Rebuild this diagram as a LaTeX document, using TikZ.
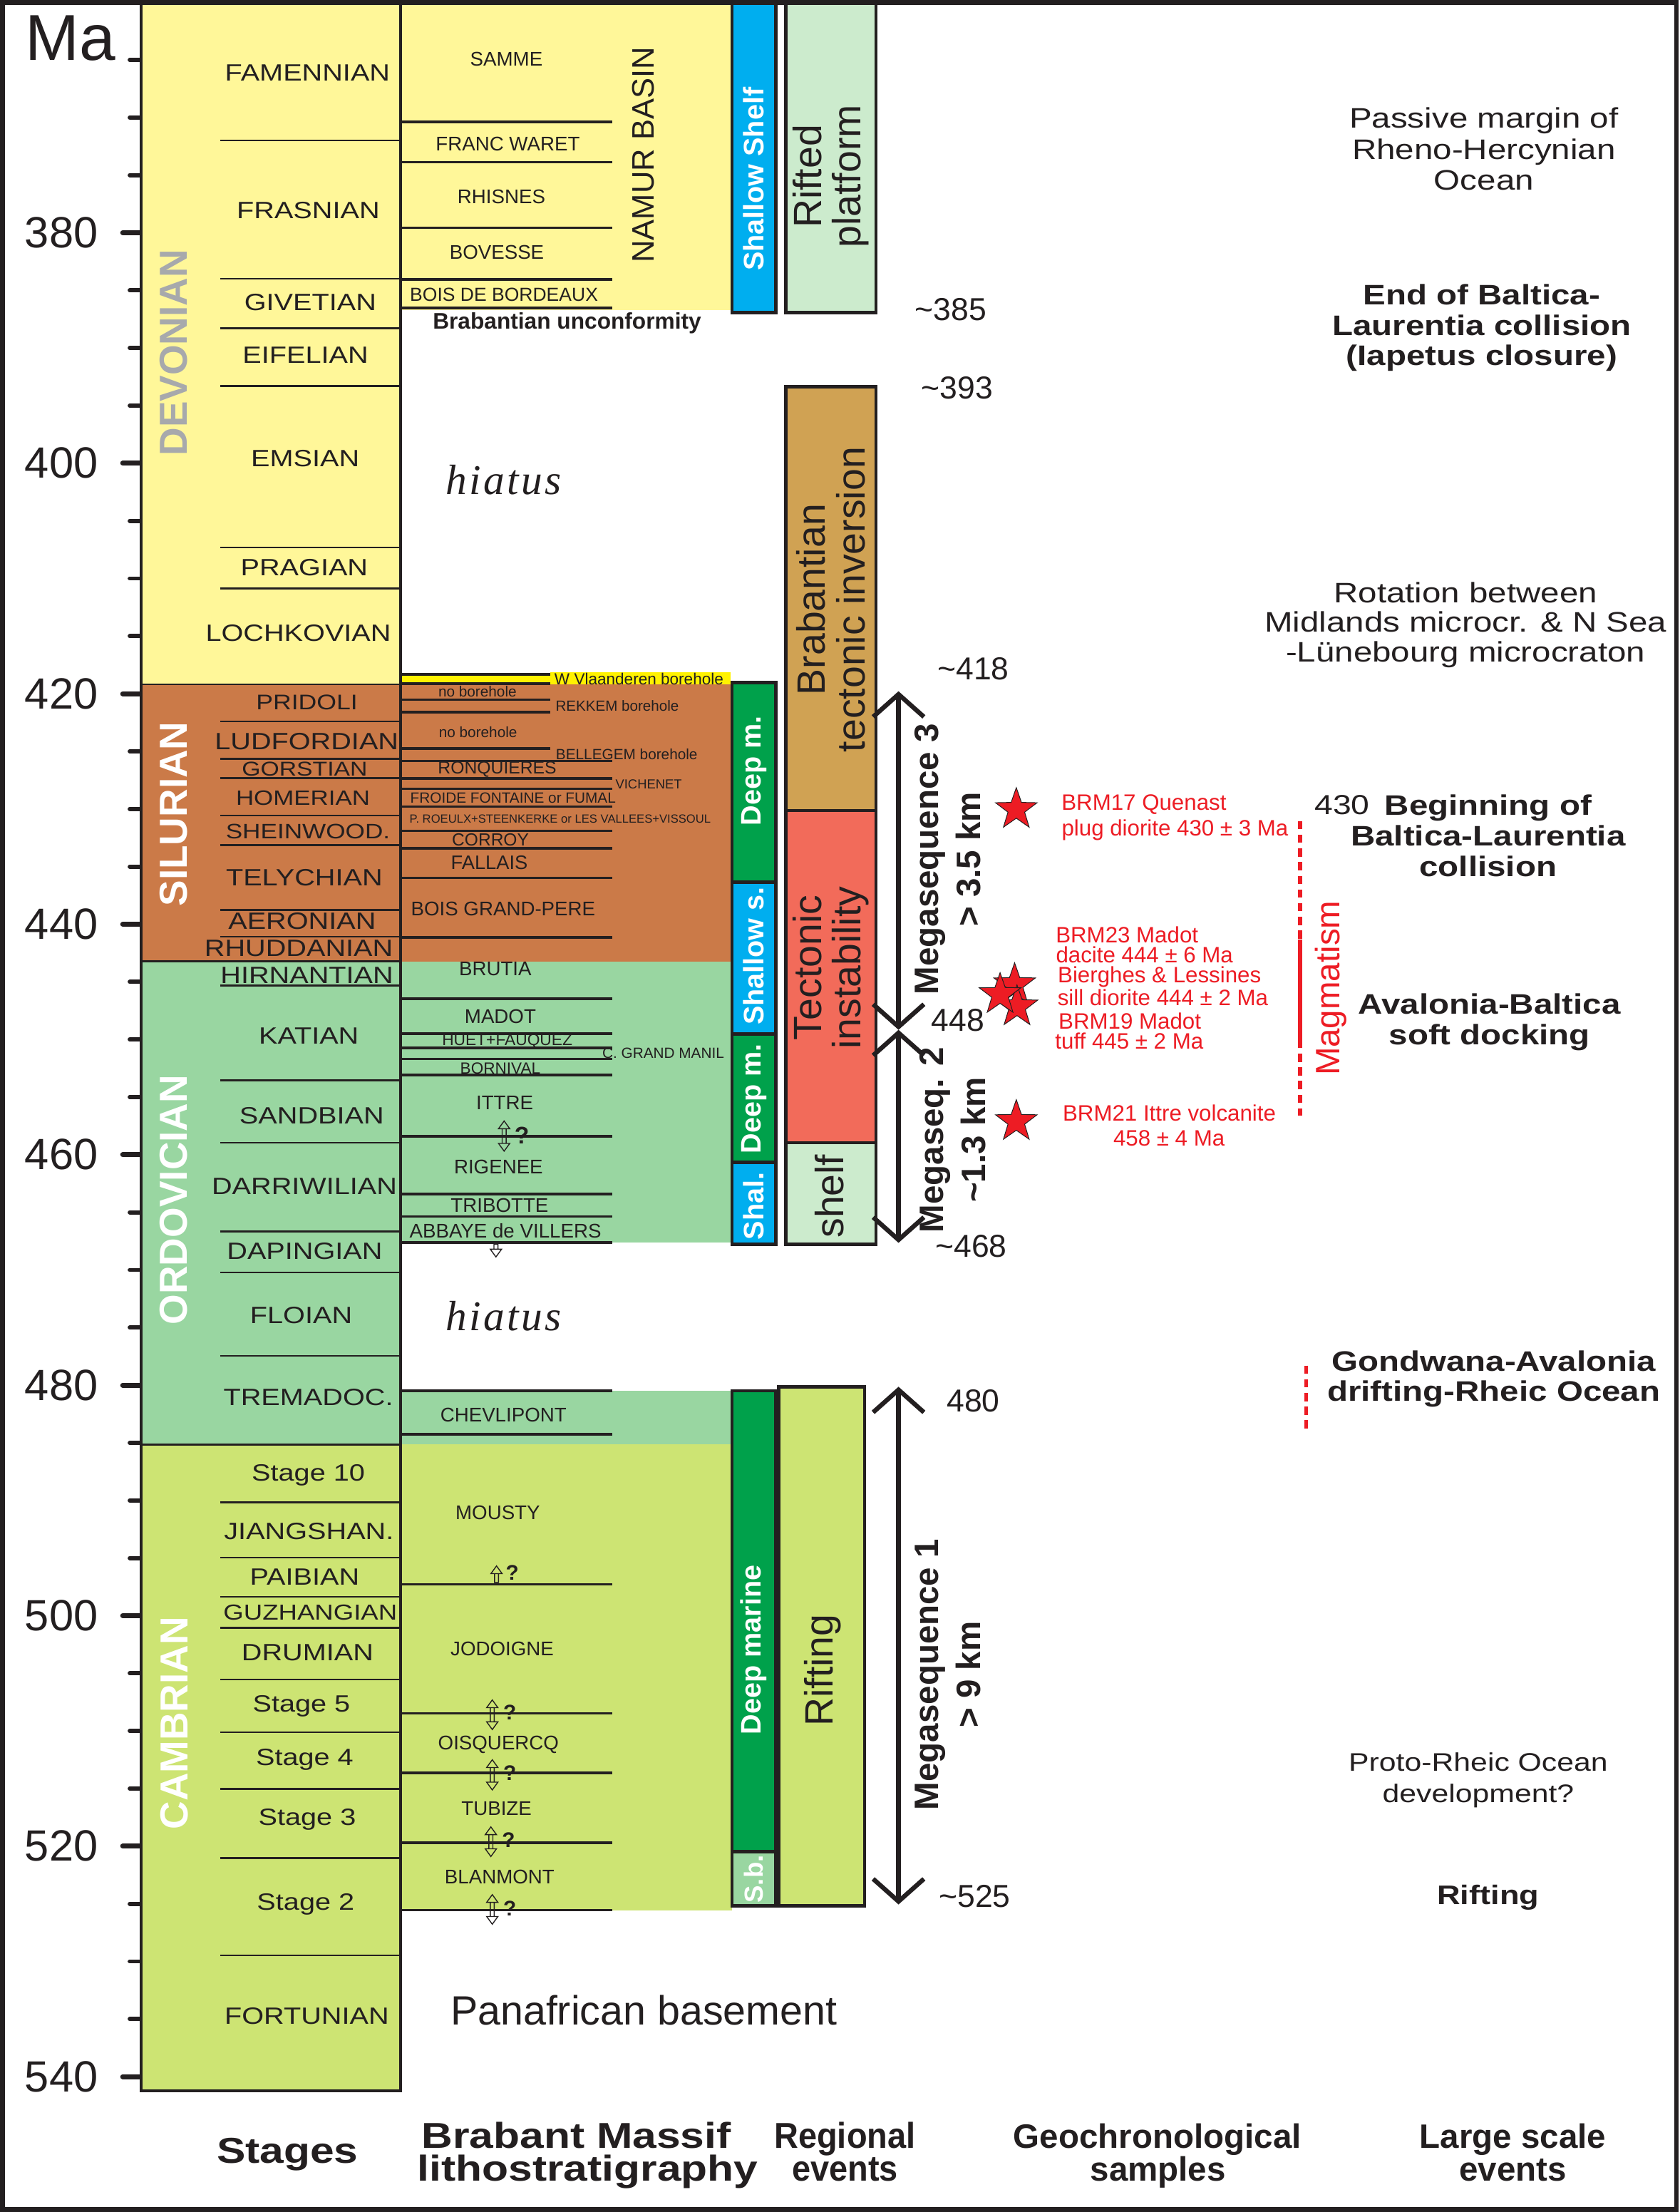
\documentclass[tikz,border=0pt]{standalone}
\usepackage{fontspec}
\usetikzlibrary{arrows.meta,shapes.geometric}
\setmainfont{Liberation Sans}
\newfontfamily\fN{Liberation Sans}
\newfontfamily\fW[FakeStretch=1.2]{Liberation Sans}
\newfontfamily\fC[FakeStretch=0.93]{Liberation Sans}
\newfontfamily\fHi[LetterSpace=6]{Liberation Serif}
\newcommand{\fz}[2]{\fontsize{#1}{#2}\selectfont}
\definecolor{ink}{HTML}{231F20}
\definecolor{devyel}{HTML}{FFF799}
\definecolor{silbrn}{HTML}{CB7A48}
\definecolor{ordgrn}{HTML}{99D6A1}
\definecolor{camgrn}{HTML}{CDE473}
\definecolor{shblue}{HTML}{00AEEF}
\definecolor{dpgrn}{HTML}{00A14B}
\definecolor{ltgrn}{HTML}{CCEBCD}
\definecolor{tancol}{HTML}{D0A253}
\definecolor{salm}{HTML}{F26B5A}
\definecolor{rd}{HTML}{ED1C24}
\definecolor{gry}{HTML}{A7A9AC}
\definecolor{hlyel}{HTML}{FFF200}
\newcommand{\harrUD}[3]{%
  \draw[harr] (#1-4,#2+5.5) -- (#1,#2) -- (#1+4,#2+5.5) -- cycle
              (#1-4,#3-5.5) -- (#1,#3) -- (#1+4,#3-5.5) -- cycle
              (#1-1.4,#2+5.5) -- (#1-1.4,#3-5.5)
              (#1+1.4,#2+5.5) -- (#1+1.4,#3-5.5);}
\newcommand{\harrU}[3]{%
  \draw[harr] (#1-4,#2+5.5) -- (#1,#2) -- (#1+4,#2+5.5) -- cycle
              (#1-1.4,#2+5.5) -- (#1-1.4,#3) -- (#1+1.4,#3) -- (#1+1.4,#2+5.5);}
\newcommand{\harrD}[3]{%
  \draw[harr] (#1-4,#3-5.5) -- (#1,#3) -- (#1+4,#3-5.5) -- cycle
              (#1-1.4,#3-5.5) -- (#1-1.4,#2) -- (#1+1.4,#2) -- (#1+1.4,#3-5.5);}
\begin{document}
\begin{tikzpicture}[x=1pt,y=-1pt,
  every node/.style={inner sep=0pt, text=ink},
  stl/.style={line width=1.3pt, draw=ink},
  brl/.style={line width=1.8pt, draw=ink},
  boxl/.style={line width=2.2pt, draw=ink},
  rbox/.style={line width=2.4pt, draw=ink},
  outerframe/.style={line width=3.5pt, draw=ink},
  tickm/.style={line width=3pt, draw=ink, line cap=round},
  tickM/.style={line width=3.5pt, draw=ink, line cap=round},
  tklab/.style={font=\fN\fz{31}{33}},
  stg/.style={font=\fW\fz{16.7}{18}},
  lith/.style={font=\fN\fz{14}{15}},
  per/.style={font=\fN\bfseries\fz{27.7}{30}, rotate=90},
  wtxt/.style={font=\fN\bfseries\fz{20}{22}, rotate=90, text=white},
  evt/.style={font=\fN\fz{28}{28}, rotate=90, align=center},
  meg/.style={font=\fN\bfseries\fz{24}{30}, rotate=90, align=center},
  num/.style={font=\fN\fz{22.5}{24}},
  lse/.style={font=\fW\fz{20}{21.8}, align=center},
  lseb/.style={font=\fW\bfseries\fz{20}{21.5}, align=center},
  rtxt/.style={font=\fN\fz{15.8}{17}, text=rd},
  hdr/.style={font=\fW\bfseries\fz{25.5}{23}, anchor=base},
  qm/.style={font=\fN\bfseries\fz{15}{16}},
  hiat/.style={font=\fHi\itshape\fz{30}{32}},
  redstar/.style={star, star points=5, star point ratio=2.5, minimum size=31pt, fill=rd, draw=ink, line width=0.5pt},
  mega/.style={line width=3.2pt, draw=ink, arrows={Straight Barb[length=16pt,width=36pt]-Straight Barb[length=16pt,width=36pt]}},
  harr/.style={line width=0.7pt, draw=ink, line join=miter},
  rdash/.style={line width=2.9pt, draw=rd, dash pattern=on 5.8pt off 3.9pt},
  rsolid/.style={line width=2.9pt, draw=rd}
]
\useasboundingbox (0,0) rectangle (1191,1568);
\fill[white] (0,0) rectangle (1191,1568);

% ---------- fills ----------
\fill[devyel] (100,2) rectangle (284,485.2);
\fill[silbrn] (100,485.2) rectangle (284,681.5);
\fill[ordgrn] (100,681.5) rectangle (284,1024);
\fill[camgrn] (100,1024) rectangle (284,1482);
\fill[devyel] (284,2) rectangle (519,219.7);
\fill[hlyel] (284,478) rectangle (390,485.2);
\fill[hlyel] (390,476.5) rectangle (518,485.2);
\fill[silbrn] (284,485.2) rectangle (519,681.5);
\fill[ordgrn] (284,681.5) rectangle (519,881);
\fill[ordgrn] (284,985.8) rectangle (519,1024);
\fill[camgrn] (284,1024) rectangle (519,1354);

% ---------- stage lines ----------
\foreach \yy in {99.6,197.6,232.8,273.5,388,417,511.3,538,551.6,578,599,645,664,698.6,765.7,810,873,902,961,1065,1104,1132,1154,1190.6,1228,1268,1317,1386}{\draw[stl] (156,\yy) -- (284,\yy);}
\foreach \yy in {485.2,681.5,1024}{\draw[stl] (100,\yy) -- (284,\yy);}

% ---------- Brabant lines ----------
\foreach \yy in {478,484.7,496,504.8,530.6}{\draw[brl] (284,\yy) -- (390,\yy);}
\foreach \yy in {86.5,115,161.5,198,218.3,539.5,551.7,559.2,571.8,588.9,601.4,622.3,664.5,707.9,732.6,742.7,750.7,762,805.5,846.5,862.4,880.8,985.8,1016.7,1123,1214.6,1256.7,1306.2,1354}{\draw[brl] (284,\yy) -- (434,\yy);}

% ---------- stage column border ----------
\draw[boxl] (100,2) -- (100,1482) -- (284,1482) -- (284,2);

% ---------- ticks ----------
\foreach \t in {365,370,...,540}{
  \pgfmathsetmacro{\yy}{165+(\t-380)*8.169}
  \draw[tickm] (92,\yy) -- (99,\yy);
}
\foreach \t in {380,400,...,540}{
  \pgfmathsetmacro{\yy}{165+(\t-380)*8.169}
  \draw[tickM] (87,\yy) -- (99,\yy);
  \node[tklab] (tk\t) at (43.5,\yy) {\t};
}
\node[font=\fN\fz{46}{48}] (ma) at (49.8,27) {Ma};

% ---------- periods ----------
\node[per, text=gry] (pDev) at (123.3,250) {DEVONIAN};
\node[per, text=white] (pSil) at (123.3,577) {SILURIAN};
\node[per, text=white] (pOrd) at (123.3,850.5) {ORDOVICIAN};
\node[per, text=white] (pCam) at (123.5,1221.5) {CAMBRIAN};

% ---------- stages ----------
\node[stg] (s1) at (218,51.6) {FAMENNIAN};
\node[stg] (s2) at (218.5,149.3) {FRASNIAN};
\node[stg] (s3) at (220,214.4) {GIVETIAN};
\node[stg] (s4) at (216.6,251.5) {EIFELIAN};
\node[stg] (s5) at (216.4,325) {EMSIAN};
\node[stg] (s6) at (215.7,402.4) {PRAGIAN};
\node[stg] (s7) at (211.5,449) {LOCHKOVIAN};
\node[stg, font=\fW\fz{15}{16}] (s8) at (217.6,498) {PRIDOLI};
\node[stg] (s9) at (217.4,525.5) {LUDFORDIAN};
\node[stg, font=\fW\fz{14.2}{15}] (s10) at (216,545) {GORSTIAN};
\node[stg, font=\fW\fz{14.7}{15}] (s11) at (214.8,565.6) {HOMERIAN};
\node[stg, font=\fW\fz{14.8}{15}] (s12) at (218.3,589.4) {SHEINWOOD.};
\node[stg] (s13) at (215.7,622.3) {TELYCHIAN};
\node[stg] (s14) at (214.2,653) {AERONIAN};
\node[stg] (s15) at (211.8,672) {RHUDDANIAN};
\node[stg] (s16) at (217.6,691.5) {HIRNANTIAN};
\node[stg] (s17) at (218.9,734.4) {KATIAN};
\node[stg] (s18) at (221,790.7) {SANDBIAN};
\node[stg] (s19) at (215.8,840.7) {DARRIWILIAN};
\node[stg] (s20) at (216,886.9) {DAPINGIAN};
\node[stg] (s21) at (213.5,932.6) {FLOIAN};
\node[stg] (s22) at (218.6,990.7) {TREMADOC.};
\node[stg] (s23) at (218.6,1045.5) {Stage 10};
\node[stg] (s24) at (219,1085.6) {JIANGSHAN.};
\node[stg] (s25) at (216,1117.7) {PAIBIAN};
\node[stg, font=\fW\fz{15.4}{16}] (s26) at (220,1143.2) {GUZHANGIAN};
\node[stg] (s27) at (218,1171.6) {DRUMIAN};
\node[stg] (s28) at (213.7,1209.3) {Stage 5};
\node[stg] (s29) at (216,1247.4) {Stage 4};
\node[stg] (s30) at (217.8,1290) {Stage 3};
\node[stg] (s31) at (216.7,1349.7) {Stage 2};
\node[stg] (s32) at (217.5,1429.3) {FORTUNIAN};

% ---------- lithostratigraphy ----------
\node[lith] (l1) at (359,42) {SAMME};
\node[lith] (l2) at (360,102) {FRANC WARET};
\node[lith] (l3) at (355.5,139.2) {RHISNES};
\node[lith] (l4) at (352.2,179.1) {BOVESSE};
\node[lith, font=\fN\fz{13.4}{14}] (l5) at (357.3,208.8) {BOIS DE BORDEAUX};
\node[font=\fN\bfseries\fz{16}{17}] (l6) at (402,229) {Brabantian unconformity};
\node[font=\fN\fz{22}{24}, rotate=90] (l7) at (455.8,109.8) {NAMUR BASIN};
\node[lith, font=\fN\fz{11.4}{12}] (l8) at (453,481.4) {W Vlaanderen borehole};
\node[lith, font=\fN\fz{10.5}{11}] (l9) at (338.5,490) {no borehole};
\node[lith, font=\fN\fz{10.4}{11}] (l10) at (437.6,500.1) {REKKEM borehole};
\node[lith, font=\fN\fz{10.5}{11}] (l11) at (338.9,519) {no borehole};
\node[lith, font=\fN\fz{10.5}{11}] (l12) at (444.3,534.5) {BELLEGEM borehole};
\node[lith, font=\fN\fz{12.5}{13}] (l13) at (352.5,545.3) {RONQUIERES};
\node[lith, font=\fN\fz{9.3}{10}] (l14) at (459.9,555.9) {VICHENET};
\node[lith, font=\fN\fz{10.5}{11}] (l15) at (363.7,565.8) {FROIDE FONTAINE or FUMAL};
\node[lith, font=\fN\fz{8.4}{9}] (l16) at (397.1,580.5) {P. ROEULX+STEENKERKE or LES VALLEES+VISSOUL};
\node[lith, font=\fN\fz{12.4}{13}] (l17) at (347.7,595.2) {CORROY};
\node[lith, font=\fN\fz{13.8}{14}] (l18) at (346.9,611.5) {FALLAIS};
\node[lith] (l19) at (356.7,644.1) {BOIS GRAND-PERE};
\node[lith] (l20) at (351.1,686.6) {BRUTIA};
\node[lith] (l21) at (354.7,720.4) {MADOT};
\node[lith, font=\fN\fz{11.5}{12}] (l22) at (359.6,738) {HUET+FAUQUEZ};
\node[lith, font=\fN\fz{10.5}{11}] (l23) at (470.2,746.5) {C. GRAND MANIL};
\node[lith, font=\fN\fz{11.4}{12}] (l24) at (354.7,757.2) {BORNIVAL};
\node[lith] (l25) at (357.8,781.5) {ITTRE};
\node[lith] (l26) at (353.4,827.2) {RIGENEE};
\node[lith] (l27) at (354.2,854.5) {TRIBOTTE};
\node[lith] (l28) at (358.3,872.4) {ABBAYE de VILLERS};
\node[lith] (l29) at (356.9,1003) {CHEVLIPONT};
\node[lith] (l30) at (352.9,1072) {MOUSTY};
\node[lith] (l31) at (356,1169) {JODOIGNE};
\node[lith] (l32) at (353.4,1236.6) {OISQUERCQ};
\node[lith] (l33) at (352,1282.2) {TUBIZE};
\node[lith] (l34) at (354.2,1330.7) {BLANMONT};

% hollow arrows and question marks
\harrUD{357.4}{794.6}{816}
\node[qm, font=\fN\bfseries\fz{17}{18}] (q1) at (370,804.6) {?};
\harrD{351.6}{882}{891}
\harrU{352}{1110}{1121.7}
\node[qm] (q2) at (363.2,1114.8) {?};
\harrUD{349}{1205}{1226}
\node[qm] (q3) at (361.4,1213.9) {?};
\harrUD{349}{1247.4}{1268.8}
\node[qm] (q4) at (361.4,1256.7) {?};
\harrUD{348}{1295}{1316}
\node[qm] (q5) at (360.5,1304.2) {?};
\harrUD{349}{1343}{1364}
\node[qm] (q6) at (361.4,1352.7) {?};

\node[hiat] (h1) at (357,340) {hiatus};
\node[hiat] (h2) at (357,933) {hiatus};
\node[font=\fN\fz{29}{30}] (pan) at (456.4,1425) {Panafrican basement};

% ---------- regional events ----------
\draw[rbox, fill=shblue] (519,2) rectangle (550,221.4);
\draw[rbox, fill=dpgrn] (519,484) rectangle (550,625.5);
\draw[rbox, fill=shblue] (519,625.5) rectangle (550,733);
\draw[rbox, fill=dpgrn] (519,733) rectangle (550,824);
\draw[rbox, fill=shblue] (519,824) rectangle (550,882);
\draw[rbox, fill=dpgrn] (519,985.8) rectangle (550,1312.5);
\draw[rbox, fill=ordgrn] (519,1312.5) rectangle (550,1351);
\draw[rbox, fill=ltgrn] (557,2) rectangle (621,221.4);
\draw[rbox, fill=tancol] (557,274) rectangle (621,574.5);
\draw[rbox, fill=salm] (557,574.5) rectangle (621,810);
\draw[rbox, fill=ltgrn] (557,810) rectangle (621,882);
\draw[rbox, fill=camgrn] (552,983) rectangle (613,1351);

\node[wtxt] (tShS) at (534.5,127) {Shallow Shelf};
\node[wtxt] (tDm1) at (534.5,546.4) {Deep m.};
\node[wtxt] (tShs) at (534.5,677.7) {Shallow s.};
\node[wtxt] (tDm2) at (534.5,778.8) {Deep m.};
\node[wtxt] (tShal) at (534.5,855) {Shal.};
\node[wtxt] (tDmar) at (534.5,1169.4) {Deep marine};
\node[wtxt, font=\fN\bfseries\fz{18.5}{20}] (tSb) at (534.5,1332) {S.b.};

\node[evt] (tRif) at (589,125) {Rifted\\platform};
\node[evt] (tBra) at (589,425) {Brabantian\\tectonic inversion};
\node[evt] (tTec) at (589,686) {Tectonic\\instability};
\node[evt] (tShelf) at (588,848) {shelf};
\node[evt] (tRifting) at (583,1184) {Rifting};

% megasequence arrows
\coordinate (m3t) at (637,490);
\coordinate (m3b) at (637,730);
\coordinate (m2t) at (637,730);
\coordinate (m2b) at (637,881);
\coordinate (m1t) at (637,983);
\coordinate (m1b) at (637,1350);
\draw[mega] (m3t) -- (m3b);
\draw[mega] (m2t) -- (m2b);
\draw[mega] (m1t) -- (m1b);
\node[meg] (tM3) at (672,609) {Megasequence 3\\> 3.5 km};
\node[meg] (tM2) at (675.5,808) {Megaseq. 2\\\textasciitilde 1.3 km};
\node[meg] (tM1) at (672,1187) {Megasequence 1\\> 9 km};

\node[num] (n385) at (674,219.3) {\textasciitilde 385};
\node[num] (n393) at (678.5,274.8) {\textasciitilde 393};
\node[num] (n418) at (690,474) {\textasciitilde 418};
\node[num] (n448) at (679,723.3) {448};
\node[num] (n468) at (688.5,883.4) {\textasciitilde 468};
\node[num] (n480) at (690,993) {480};
\node[num] (n525) at (691,1344) {\textasciitilde 525};

% ---------- geochronological samples ----------
\node[redstar] (st17) at (720.5,573.8) {};
\node[redstar] (st19) at (719.3,698) {};
\node[redstar] (stBL) at (721,713.7) {};
\node[redstar] (st23) at (709,705) {};
\node[redstar] (st21) at (720.5,795) {};
\node[rtxt] (r1) at (811,570.5) {BRM17 Quenast};
\node[rtxt] (r2) at (833,588.5) {plug diorite 430 ± 3 Ma};
\node[rtxt] (r3) at (799,662.4) {BRM23 Madot};
\node[rtxt] (r4) at (811.4,677) {dacite 444 ± 6 Ma};
\node[rtxt] (r5) at (822,692.4) {Bierghes \& Lessines};
\node[rtxt] (r6) at (824.4,707) {sill diorite 444 ± 2 Ma};
\node[rtxt] (r7) at (801,723.7) {BRM19 Madot};
\node[rtxt] (r8) at (800.6,737.8) {tuff 445 ± 2 Ma};
\node[rtxt] (r9) at (829,789) {BRM21 Ittre volcanite};
\node[rtxt] (r10) at (828.8,807) {458 ± 4 Ma};

\coordinate (mgT) at (921.7,582);
\coordinate (mgB) at (921.7,791);
\draw[rdash] (mgT) -- (mgB);
\coordinate (mgS1) at (921.7,666);
\coordinate (mgS2) at (921.7,738);
\draw[rsolid] (mgS1) -- (mgS2);
\node[font=\fN\fz{24}{26}, text=rd, rotate=90] (tMag) at (943.3,700.5) {Magmatism};
\coordinate (gdT) at (926,968);
\coordinate (gdB) at (926,1016);
\draw[rdash] (gdT) -- (gdB);

% ---------- large scale events ----------
\node[lse] (e1) at (1052,105.6) {Passive margin of\\Rheno-Hercynian\\Ocean};
\node[lseb] (e2) at (1050.5,232.5) {End of Baltica-\\Laurentia collision\\(Iapetus closure)};
\node[lse, font=\fW\fz{20}{21}] (e3) at (1039,443) {Rotation between\\Midlands microcr. \& N Sea\\-Lünebourg microcraton};
\node[font=\fW\fz{19.5}{21}] (e4a) at (951.5,570.6) {430};
\node[lseb, font=\fW\bfseries\fz{20}{21.7}] (e4) at (1055,592.3) {Beginning of\\Baltica-Laurentia\\collision};
\node[lseb, font=\fW\bfseries\fz{20}{21.4}] (e5) at (1056,724.5) {Avalonia-Baltica\\soft docking};
\node[lseb, font=\fW\bfseries\fz{20}{21.3}] (e6) at (1059,977.6) {Gondwana-Avalonia\\drifting-Rheic Ocean};
\node[lse, font=\fW\fz{18}{22}] (e7) at (1048,1262) {Proto-Rheic Ocean\\development?};
\node[font=\fW\bfseries\fz{19}{21}] (e8) at (1055,1345) {Rifting};

% ---------- headers ----------
\node[hdr] (hSt) at (203.8,1533.6) {Stages};
\node[hdr] (hBM1) at (408.6,1523) {Brabant Massif};
\node[hdr] (hBM2) at (416.6,1546) {lithostratigraphy};
\node[hdr, font=\fC\bfseries\fz{25.5}{23}] (hRe1) at (599,1523) {Regional};
\node[hdr, font=\fC\bfseries\fz{25.5}{23}] (hRe2) at (599,1546) {events};
\node[hdr, font=\fN\bfseries\fz{24}{23}] (hGe1) at (820.5,1523) {Geochronological};
\node[hdr, font=\fN\bfseries\fz{24}{23}] (hGe2) at (821,1546) {samples};
\node[hdr, font=\fN\bfseries\fz{24}{23}] (hLa1) at (1072.5,1523) {Large scale};
\node[hdr, font=\fN\bfseries\fz{24}{23}] (hLa2) at (1072.5,1546) {events};

\draw[outerframe] (1.8,1.8) rectangle (1188.5,1566);
\end{tikzpicture}
\end{document}
